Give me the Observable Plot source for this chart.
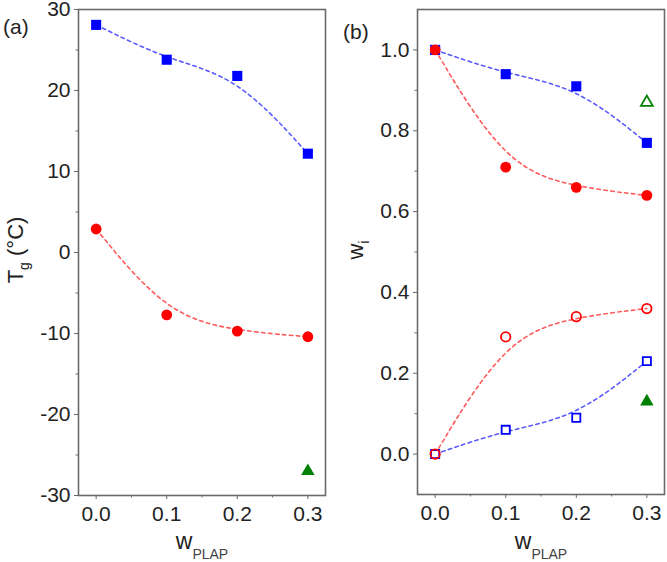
<!DOCTYPE html>
<html>
<head>
<meta charset="utf-8">
<script src="https://cdn.jsdelivr.net/npm/d3@7"></script>
<script src="https://cdn.jsdelivr.net/npm/@observablehq/plot@0.6"></script>
<style>
  html, body { margin: 0; padding: 0; background: #fff; }
  #wrap { position: relative; width: 667px; height: 562px; overflow: hidden; }
  #pa { position: absolute; left: 0; top: 0; }
  #pb { position: absolute; left: 333px; top: 0; }
  svg { overflow: visible; }
</style>
</head>
<body>
<div id="wrap"><div id="pa"></div><div id="pb"></div></div>
<script>
// ---- data ----
const wPLAP = [0.0, 0.1, 0.2, 0.3];
// panel (a): Tg (°C)
const tgBlue = [28.1, 23.8, 21.8, 12.2];
const tgRed = [2.9, -7.7, -9.7, -10.4];
const tgGreenX = [0.3];
const tgGreen = [-27.0];
// panel (b): w_i
const wiBlueFilled = [1.0, 0.94, 0.91, 0.77];
const wiRedFilled = [1.0, 0.71, 0.66, 0.64];
const wiRedOpen = [0.0, 0.29, 0.34, 0.36];
const wiBlueOpen = [0.0, 0.06, 0.09, 0.23];
const wiGreenX = [0.3];
const wiGreenOpen = [0.87];
const wiGreenFilled = [0.13];
// ticks
const xTicks = [0.0, 0.1, 0.2, 0.3];
const xMinor = [0.05, 0.15, 0.25];
const aTicks = [-30, -20, -10, 0, 10, 20, 30];
const aMinor = [-25, -15, -5, 5, 15, 25];
const bTicks = [0.0, 0.2, 0.4, 0.6, 0.8, 1.0];
const bMinor = [0.1, 0.3, 0.5, 0.7, 0.9];

const rows = (xs, ys) => xs.map((x, i) => ({x, y: ys[i]}));

const BLUE = "#0000ff", RED = "#ff0000", GREEN = "#008000";
const BLUE_L = "#5a5aff", RED_L = "#ff5a5a";
const FRAME = "#6a6a6a", TXT = "#222";
const FONT = "'Liberation Sans', Arial, Helvetica, sans-serif";

function dashed(data, color) {
  return Plot.line(data, {x: "x", y: "y", curve: "basis", stroke: color, strokeWidth: 1.6, strokeDasharray: "3.5,3.5"});
}
function xAxes() {
  return [
    Plot.axisX({ticks: xTicks, tickSize: 4, tickPadding: 7, tickFormat: d => d.toFixed(1), stroke: FRAME, fill: TXT, fontSize: 21, label: null}),
    Plot.axisX({ticks: xMinor, tickSize: 2.5, stroke: FRAME, fill: "none", label: null})
  ];
}

// ---- panel (a) ----
const A = Plot.plot({
  width: 333, height: 562,
  marginLeft: 78, marginRight: 8, marginTop: 9, marginBottom: 67,
  style: {fontFamily: FONT, fontSize: "21px", color: TXT, background: "white"},
  x: {domain: [-0.025, 0.325]},
  y: {domain: [-30, 30]},
  marks: [
    dashed(rows(wPLAP, tgBlue), BLUE_L),
    dashed(rows(wPLAP, tgRed), RED_L),
    Plot.dot(rows(wPLAP, tgBlue), {x: "x", y: "y", symbol: "square", r: 5.7, fill: BLUE, stroke: "none"}),
    Plot.dot(rows(wPLAP, tgRed), {x: "x", y: "y", symbol: "circle", r: 5.4, fill: RED, stroke: "none"}),
    Plot.dot(rows(tgGreenX, tgGreen), {x: "x", y: "y", symbol: "triangle", r: 5, fill: GREEN, stroke: "none"}),
    Plot.axisY({ticks: aTicks, tickSize: 4, tickPadding: 4, tickFormat: d => String(d), stroke: FRAME, fill: TXT, fontSize: 21, label: null}),
    Plot.axisY({ticks: aMinor, tickSize: 2.5, stroke: FRAME, fill: "none", label: null}),
    ...xAxes(),
    Plot.frame({stroke: FRAME, strokeWidth: 1.6})
  ]
});
document.getElementById("pa").appendChild(A);

// ---- panel (b) ----
const B = Plot.plot({
  width: 334, height: 562,
  marginLeft: 84, marginRight: 3, marginTop: 9, marginBottom: 68,
  style: {fontFamily: FONT, fontSize: "21px", color: TXT, background: "white"},
  x: {domain: [-0.025, 0.325]},
  y: {domain: [-0.1, 1.1]},
  marks: [
    dashed(rows(wPLAP, wiBlueFilled), BLUE_L),
    dashed(rows(wPLAP, wiRedFilled), RED_L),
    dashed(rows(wPLAP, wiRedOpen), RED_L),
    dashed(rows(wPLAP, wiBlueOpen), BLUE_L),
    Plot.dot(rows(wPLAP, wiBlueFilled), {x: "x", y: "y", symbol: "square", r: 5.7, fill: BLUE, stroke: "none"}),
    Plot.dot(rows(wPLAP, wiRedFilled), {x: "x", y: "y", symbol: "circle", r: 5.4, fill: RED, stroke: "none"}),
    Plot.dot(rows(wPLAP, wiBlueOpen), {x: "x", y: "y", symbol: "square", r: 4.6, fill: "white", stroke: BLUE, strokeWidth: 1.8}),
    Plot.dot(rows(wPLAP, wiRedOpen), {x: "x", y: "y", symbol: "circle", r: 4.7, fill: "none", stroke: RED, strokeWidth: 1.8}),
    Plot.dot(rows(wiGreenX, wiGreenOpen), {x: "x", y: "y", symbol: "triangle", r: 4.4, fill: "white", stroke: GREEN, strokeWidth: 1.8}),
    Plot.dot(rows(wiGreenX, wiGreenFilled), {x: "x", y: "y", symbol: "triangle", r: 5, fill: GREEN, stroke: "none"}),
    Plot.axisY({ticks: bTicks, tickSize: 4, tickPadding: 4, tickFormat: d => d.toFixed(1), stroke: FRAME, fill: TXT, fontSize: 21, label: null}),
    Plot.axisY({ticks: bMinor, tickSize: 2.5, stroke: FRAME, fill: "none", label: null}),
    ...xAxes(),
    Plot.frame({stroke: FRAME, strokeWidth: 1.6})
  ]
});
document.getElementById("pb").appendChild(B);

// ---- labels ----
function addLabels(svg, opts) {
  const s = d3.select(svg);
  // panel letter
  s.append("text").attr("x", opts.letterX).attr("y", opts.letterY)
    .attr("text-anchor", "start")
    .attr("font-family", FONT).attr("font-size", 21).attr("fill", TXT)
    .text(opts.letter);
  // y label (rotated)
  const yl = s.append("text")
    .attr("transform", `translate(${opts.yLabelX},${opts.yLabelY}) rotate(-90)`)
    .attr("text-anchor", "middle").attr("font-family", FONT).attr("fill", TXT);
  yl.append("tspan").attr("font-size", 22).text(opts.yMain);
  yl.append("tspan").attr("font-size", 14).attr("dy", 6).text(opts.ySub);
  if (opts.yRest) yl.append("tspan").attr("font-size", 22).attr("dy", -6).text(opts.yRest);
  // x label
  const xl = s.append("text")
    .attr("x", opts.xLabelX).attr("y", 549)
    .attr("text-anchor", "middle").attr("font-family", FONT).attr("fill", TXT);
  xl.append("tspan").attr("font-size", 23).text("w");
  xl.append("tspan").attr("font-size", 14).attr("dy", 10).attr("fill", "#444").text("PLAP");
}
addLabels(A, {letter: "(a)", letterX: 3, letterY: 34, yLabelX: 23, yLabelY: 250, yMain: "T", ySub: "g", yRest: " (\u00B0C)", xLabelX: 202});
addLabels(B, {letter: "(b)", letterX: 10, letterY: 39, yLabelX: 30, yLabelY: 250, yMain: "w", ySub: "i", yRest: "", xLabelX: 208});
</script>
</body>
</html>
